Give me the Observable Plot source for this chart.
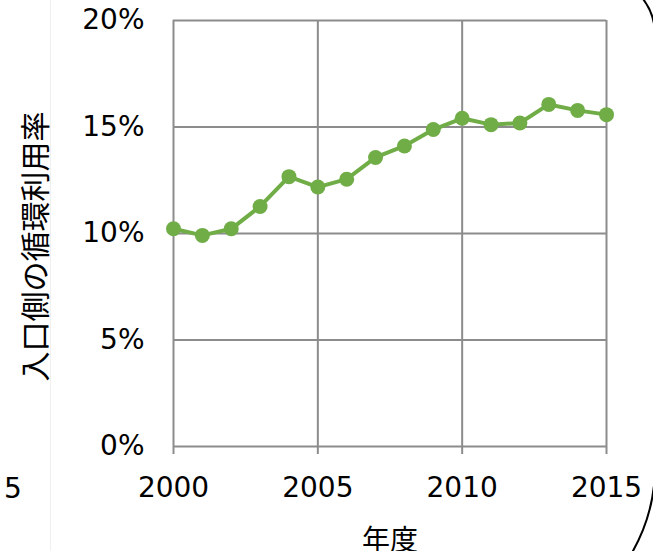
<!DOCTYPE html>
<html><head><meta charset="utf-8">
<script src="https://cdn.jsdelivr.net/npm/d3@7"></script>
<script src="https://cdn.jsdelivr.net/npm/@observablehq/plot@0.6"></script>
<style>
html,body{margin:0;padding:0;background:#fff;overflow:hidden;}
#wrap{position:relative;width:653px;height:551px;overflow:hidden;}
#wrap svg{position:absolute;left:0;top:0;}
[aria-label="x-axis label"] text{font-family:"Noto Sans CJK JP",sans-serif;}
</style></head><body><div id="wrap"></div>
<script>
const years = [2000,2001,2002,2003,2004,2005,2006,2007,2008,2009,2010,2011,2012,2013,2014,2015];
const rates = [10.22,9.91,10.22,11.27,12.67,12.18,12.55,13.57,14.11,14.88,15.41,15.11,15.19,16.06,15.78,15.58];
const yTicks = [0,5,10,15,20];
const xTicks = [2000,2005,2010,2015];
const xLabel = "年度";
const yLabel = "入口側の循環利用率";
const data = years.map((y,i)=>({year:y, rate:rates[i]}));
const grid = "#8c8c8c";
const chart = Plot.plot({
  width:653, height:551,
  marginLeft:173, marginRight:47, marginTop:20, marginBottom:105,
  style:{fontFamily:"'DejaVu Sans', Verdana, sans-serif", fontSize:"28px", color:"#000", background:"transparent", overflow:"visible"},
  x:{domain:[2000,2015]},
  y:{domain:[0,20]},
  marks:[
    Plot.ruleY(yTicks,{stroke:grid, strokeWidth:2}),
    Plot.ruleX(xTicks,{stroke:grid, strokeWidth:2}),
    Plot.axisX({ticks:xTicks, tickFormat:d=>String(d), tickSize:8, tickPadding:23, stroke:grid, strokeWidth:2, strokeOpacity:1, fill:"#000", fontSize:28,
      label:xLabel, labelAnchor:"center", labelArrow:"none", labelOffset:103}),
    Plot.axisY({ticks:yTicks, tickFormat:d=>d+"%", tickSize:0, tickPadding:29, fill:"#000", fontSize:28, label:null}),
    Plot.text([yLabel], {frameAnchor:"left", rotate:-90, dx:-137, dy:13, text:d=>d, fontSize:30,
      fontFamily:"Noto Sans CJK JP", fill:"#000", textAnchor:"middle", lineAnchor:"middle"}),
    Plot.line(data,{x:"year", y:"rate", stroke:"#70ad47", strokeWidth:4}),
    Plot.dot(data,{x:"year", y:"rate", r:7.5, fill:"#70ad47"})
  ]
});
const wrap = document.getElementById("wrap");
wrap.appendChild(chart);
// decorations from the surrounding figure (cut-off neighbour label, frame edge)
const ns = "http://www.w3.org/2000/svg";
const deco = document.createElementNS(ns,"svg");
deco.setAttribute("width","653"); deco.setAttribute("height","551");
deco.innerHTML = `
<line x1="50.5" y1="0" x2="50.5" y2="551" stroke="#f0f0f0" stroke-width="1"/>
<text x="4" y="498" font-family="DejaVu Sans" font-size="28" fill="#000">5</text>
<path d="M480 -25 H595 A60 60 0 0 1 655 35 V467 A171 171 0 0 1 484 638" fill="none" stroke="#000" stroke-width="2"/>`;
wrap.appendChild(deco);
</script>
</body></html>
